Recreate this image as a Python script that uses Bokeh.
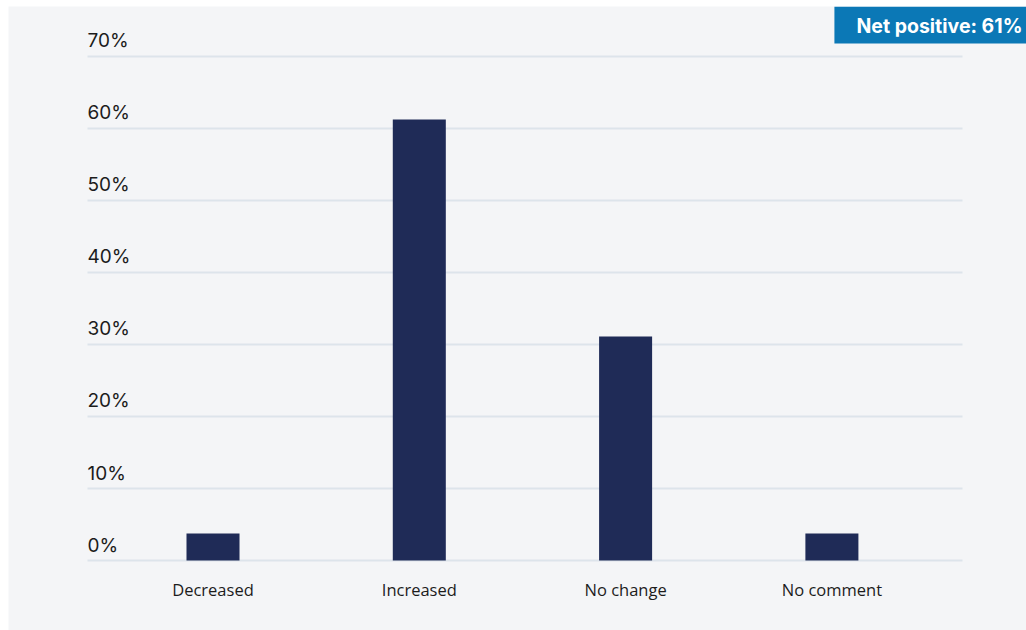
from bokeh.plotting import figure
from bokeh.models import ColumnDataSource, Range1d, LabelSet, Label
from bokeh.core.properties import value
from bokeh.embed import file_html
from bokeh.resources import INLINE

categories = ["Decreased", "Increased", "No change", "No comment"]
values = [3.75, 61.25, 31.1, 3.75]
y_ticks = [0, 10, 20, 30, 40, 50, 60, 70]
y_tick_labels = ["0%", "10%", "20%", "30%", "40%", "50%", "60%", "70%"]
badge_text = "Net positive: 61%"

BG = "#f4f5f7"
BAR = "#1f2b57"
GRID = "#dde4eb"
BADGE = "#0b78b6"
TEXT = "#1c1c1c"

W, H = 1026, 630
FL, FT = 8, 6  # white strips left / top

xs = list(range(len(categories)))
GX0, GX1 = -0.6083, 3.633  # grid line extent (in category units)

p = figure(width=W, height=H,
           x_range=Range1d(-0.9913, 3.9433), y_range=Range1d(-9.722, 76.944),
           output_backend="svg", toolbar_location=None,
           min_border_left=FL, min_border_right=0, min_border_top=FT, min_border_bottom=0,
           background_fill_color=BG, border_fill_color="white", outline_line_color=None)
p.xaxis.visible = False
p.yaxis.visible = False
p.grid.visible = False

# grid lines from tick values
gsrc = ColumnDataSource(dict(y=y_ticks, x0=[GX0] * len(y_ticks), x1=[GX1] * len(y_ticks),
                             t=y_tick_labels))
p.segment(x0="x0", x1="x1", y0="y", y1="y", source=gsrc, line_color=GRID, line_width=2)

# bars
src = ColumnDataSource(dict(x=xs, top=values, cat=categories, zero=[0] * len(xs)))
p.vbar(x="x", top="top", width=0.257, bottom=0, source=src, fill_color=BAR, line_color=None)

# y tick labels above grid lines
p.add_layout(LabelSet(x="x0", y="y", text="t", source=gsrc,
                      y_offset=9, text_align="left", text_baseline="alphabetic",
                      text_font=value("Inter"), text_font_size="19px", text_color=TEXT))

# category labels
p.add_layout(LabelSet(x="x", y="zero", text="cat", source=src,
                      y_offset=-35, text_align="center", text_baseline="alphabetic",
                      text_font=value("Open Sans"), text_font_size="16.5px", text_color=TEXT))

# badge
p.add_layout(Label(x=W - FL, y=H - FT, x_units="screen", y_units="screen", text=badge_text,
                   text_align="right", text_baseline="top",
                   text_font="Inter", text_font_style="bold", text_font_size="19.5px",
                   text_color="white", background_fill_color=BADGE,
                   padding=dict(left=22, right=4, top=7, bottom=6)))

open("out.html", "w").write(file_html(p, INLINE))
